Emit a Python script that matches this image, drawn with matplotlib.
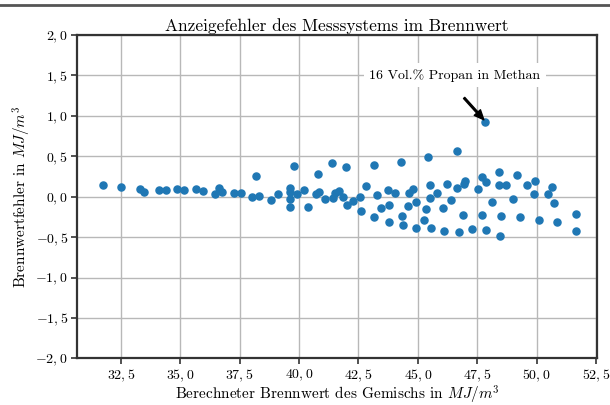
import matplotlib
matplotlib.use("Agg")
import matplotlib.pyplot as plt
from matplotlib.ticker import FuncFormatter, MultipleLocator
from matplotlib.lines import Line2D

plt.rcParams["font.family"] = "serif"
plt.rcParams["font.serif"] = ["cmr10"]
plt.rcParams["mathtext.fontset"] = "cm"
plt.rcParams["axes.formatter.use_mathtext"] = True

# Berechneter Brennwert (MJ/m^3) und Anzeigefehler (MJ/m^3)
brennwert = [31.73, 32.51, 33.30, 33.48, 34.09, 34.39, 34.88, 35.16, 35.68, 35.96,
             36.47, 36.64, 36.76, 37.26, 37.54, 38.04, 38.20, 38.30, 38.84, 39.12,
             39.63, 39.63, 39.64, 39.63, 39.77, 39.91, 40.21, 40.36, 40.80, 40.72,
             40.85, 41.11, 41.38, 41.42, 41.50, 41.68, 41.84, 41.97, 42.00, 42.29,
             42.58, 42.59, 42.84, 43.16, 43.17, 43.30, 43.46, 43.74, 43.78, 43.77,
             44.06, 44.31, 44.34, 44.36, 44.57, 44.63, 44.78, 44.92, 44.94, 45.24,
             45.34, 45.43, 45.50, 45.52, 45.55, 45.79, 46.07, 46.12, 46.24, 46.40,
             46.65, 46.67, 46.72, 46.91, 46.98, 46.95, 47.30, 47.55, 47.69, 47.86,
             47.71, 47.82, 47.89, 48.11, 48.43, 48.43, 48.72, 48.49, 48.48, 49.01,
             49.19, 49.29, 49.60, 49.92, 49.88, 50.09, 50.48, 50.66, 50.75, 50.86,
             51.64, 51.64]
fehler = [0.143, 0.120, 0.098, 0.062, 0.081, 0.081, 0.090, 0.080, 0.100, 0.065,
          0.038, 0.110, 0.059, 0.040, 0.040, -0.005, 0.254, 0.007, -0.046, 0.037,
          0.108, 0.059, -0.027, -0.126, 0.373, 0.028, 0.086, -0.123, 0.283, 0.037,
          0.062, -0.033, 0.410, -0.012, 0.040, 0.069, 0.000, 0.364, -0.098, -0.054,
          0.000, -0.177, 0.134, 0.397, -0.258, 0.020, -0.135, 0.081, -0.103, -0.313,
          0.049, 0.428, -0.239, -0.353, -0.116, 0.044, 0.094, -0.066, -0.382, -0.292,
          -0.153, 0.492, 0.139, -0.012, -0.393, 0.041, -0.135, -0.423, 0.160, -0.042,
          0.561, 0.102, -0.436, -0.226, 0.198, 0.158, -0.402, 0.098, 0.241, 0.182,
          -0.230, 0.920, -0.412, -0.066, 0.305, 0.139, 0.139, -0.239, -0.492, -0.033,
          0.262, -0.249, 0.139, 0.192, 0.032, -0.288, 0.028, 0.123, -0.074, -0.308,
          -0.218, -0.427]

fig = plt.figure(figsize=(6.1, 4.05), dpi=100)
ax = fig.add_axes([0.126, 0.115, 0.853, 0.799])

ax.grid(True, color="#b8b8b8", linewidth=1.0, zorder=0)
ax.set_axisbelow(True)
ax.scatter(brennwert, fehler, s=26, color="#1f77b4", zorder=3)

ax.set_xlim(30.65, 52.55)
ax.set_ylim(-2.0, 2.0)
ax.xaxis.set_major_locator(MultipleLocator(2.5))
ax.yaxis.set_major_locator(MultipleLocator(0.5))
komma = FuncFormatter(lambda v, pos: "$" + f"{v:.1f}".replace(".", ",") + "$")
ax.xaxis.set_major_formatter(komma)
ax.yaxis.set_major_formatter(komma)
ax.tick_params(labelsize=10, direction="out", length=4, width=1.2, color="#333333", pad=2.5)

for s in ax.spines.values():
    s.set_color("#333333")
    s.set_linewidth(1.6)

ax.set_title("Anzeigefehler des Messsystems im Brennwert", fontsize=12.5, pad=3)
ax.set_xlabel("Berechneter Brennwert des Gemischs in $MJ/m^3$", fontsize=11, labelpad=0)
ax.set_ylabel("Brennwertfehler in $MJ/m^3$", fontsize=11, labelpad=2)

ax.text(42.95, 1.5, "16 Vol.% Propan in Methan", fontsize=10, va="center", ha="left",
        bbox=dict(facecolor="white", edgecolor="none", pad=4), zorder=4)
ax.annotate("", xy=(47.78, 0.95), xytext=(46.95, 1.22),
            arrowprops=dict(facecolor="black", edgecolor="black", width=1.2,
                            headwidth=6, headlength=7), zorder=5)

fig.add_artist(Line2D([0, 1], [0.988, 0.988], color="#555555", linewidth=2,
                      transform=fig.transFigure))

fig.savefig("out.png", dpi=100)
